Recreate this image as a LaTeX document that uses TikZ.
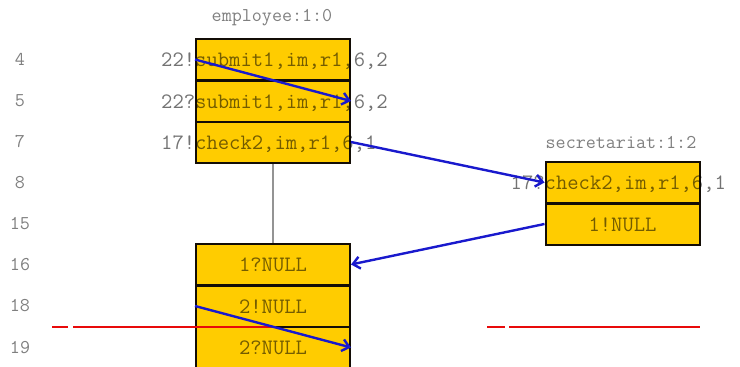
\documentclass[tikz,border=0pt]{standalone}
\usetikzlibrary{arrows.meta}
\definecolor{boxyellow}{RGB}{255,204,0}
\definecolor{msgblue}{RGB}{25,25,205}
\definecolor{cutred}{RGB}{232,10,10}
\begin{document}
\begin{tikzpicture}[x=1pt,y=-1pt,
  rowbox/.style={draw=black!90!brown,line width=2pt,fill=boxyellow,minimum width=154pt,minimum height=41pt,inner sep=0pt},
  rowtxt/.style={font=\ttfamily\fontsize{22}{24}\selectfont,text=black,text opacity=0.55,inner sep=0pt,yshift=-7pt},
  lbl/.style={font=\ttfamily\fontsize{19.5}{21}\selectfont,text=black,text opacity=0.5,inner sep=0pt},
  msg/.style={draw=msgblue,line width=2.4pt,-{Straight Barb[length=7pt,width=12pt,line width=2.4pt]}},
  life/.style={draw=black!42,line width=2pt},
  cut/.style={draw=cutred,line width=2.3pt}]
\useasboundingbox (0,0) rectangle (740,367);
% titles
\node[lbl] (tE) at (272,18) {employee:1:0};
\node[lbl] (tS) at (621,142) {secretariat:1:2};
% row numbers
\foreach \n/\y in {4/59.5,5/101,7/142,8/182.5,15/224,16/264.5,18/306,19/347.5}
  \node[lbl] (r\n) at (20,\y) {\n};
% lifeline
\coordinate (eb) at (273,162);
\coordinate (lt) at (273,244);
\draw[life] (eb) -- (lt);
% employee boxes
\node[rowbox] (e1) at (273,59.5) {};
\node[rowbox] (e2) at (273,101) {};
\node[rowbox] (e3) at (273,142) {};
% lower boxes
\node[rowbox] (l1) at (273,264.5) {};
\node[rowbox] (l2) at (273,306) {};
\node[rowbox] (l3) at (273,347.5) {};
% secretariat boxes
\node[rowbox] (s1) at (622.5,182.5) {};
\node[rowbox] (s2) at (622.5,224) {};
% texts
\node[rowtxt,anchor=base west] (te1) at (e1.west) {\llap{22!}submit1,im,r1,6,2};
\node[rowtxt,anchor=base west] (te2) at (e2.west) {\llap{22?}submit1,im,r1,6,2};
\node[rowtxt,anchor=base west] (te3) at (e3.west) {\llap{17!}check2,im,r1,6,1};
\node[rowtxt,anchor=base west] (ts1) at (s1.west) {\llap{17?}check2,im,r1,6,1};
\node[rowtxt,anchor=base] (ts2) at (s2.center) {1!NULL};
\node[rowtxt,anchor=base] (tl1) at (l1.center) {1?NULL};
\node[rowtxt,anchor=base] (tl2) at (l2.center) {2!NULL};
\node[rowtxt,anchor=base] (tl3) at (l3.center) {2?NULL};
% cut lines
\coordinate (ca1) at (52,327); \coordinate (ca2) at (68,327);
\coordinate (ca3) at (73,327); \coordinate (ca4) at (274,327);
\coordinate (cb1) at (487,327); \coordinate (cb2) at (505,327);
\coordinate (cb3) at (509,327); \coordinate (cb4) at (700,327);
\draw[cut] (ca1) -- (ca2);
\draw[cut] (ca3) -- (ca4);
\draw[cut] (cb1) -- (cb2);
\draw[cut] (cb3) -- (cb4);
% messages
\draw[msg] (e1.west) -- (e2.east);
\draw[msg] (e3.east) -- (s1.west);
\draw[msg] (s2.west) -- (l1.east);
\draw[msg] (l2.west) -- (l3.east);
\end{tikzpicture}
\end{document}
